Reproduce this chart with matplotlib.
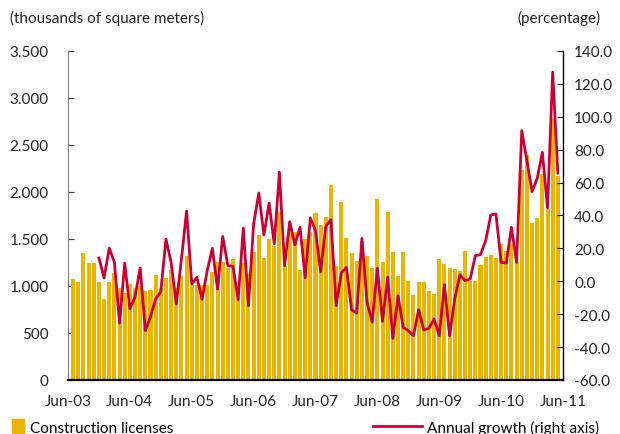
import numpy as np
import matplotlib
matplotlib.use('Agg')
import matplotlib.pyplot as plt
from matplotlib.ticker import FuncFormatter, MultipleLocator
from matplotlib.patches import Patch
from matplotlib.lines import Line2D

# Monthly construction licenses, thousands of square meters (Jul-03 .. May-11)
licenses = [1075, 1043, 1351, 1245, 1245, 1043, 862, 1043, 1138, 979,
            926, 1021, 979, 1000, 947, 958, 1117, 979, 1085, 1170,
            979, 1107, 1319, 1011, 1011, 1011, 1011, 1149, 1256, 1256,
            1192, 1287, 872, 1250, 1128, 1362, 1543, 1298, 1500, 1426,
            1787, 1213, 1600, 1575, 1170, 1500, 1575, 1777, 1649, 1734,
            2075, 1213, 1894, 1511, 1351, 1266, 1479, 1319, 1192, 1926,
            1256, 1787, 1362, 1107, 1362, 1053, 904, 1043, 1043, 947,
            915, 1287, 1234, 1192, 1181, 1160, 1372, 1053, 1053, 1224,
            1309, 1330, 1298, 1447, 1372, 1450, 1256, 2234, 2394, 1670,
            1724, 2192, 1819, 2780, 2170]

# Annual growth in percent (right axis), starts with the 6th bar
growth_start = 5
growth = [14.2, 2.0, 20.2, 11.5, -25.4, 11.1, -16.8, -9.5, 8.1, -30.0,
          -21.5, -10.8, -6.3, 25.7, 11.5, -13.8, 13.6, 42.7, -1.6, 2.4,
          -11.0, 6.5, 20.0, -4.7, 27.3, 9.5, 9.1, -11.2, 32.4, -14.8,
          34.8, 53.7, 28.1, 47.6, 22.7, 66.3, 9.5, 36.2, 22.1, 32.8,
          2.2, 38.5, 30.8, 5.8, 33.4, 37.5, -14.8, 5.0, 8.5, -17.4,
          -19.3, 26.1, -12.8, -24.9, 7.9, -24.3, 2.5, -34.7, -8.8, -28.0,
          -30.0, -33.1, -17.3, -29.6, -28.6, -22.9, -33.1, -2.1, -33.1, -10.8,
          4.0, 0.4, 1.4, 15.6, 16.2, 24.7, 40.3, 40.9, 11.5, 11.1,
          32.8, 11.5, 91.6, 73.3, 54.5, 62.6, 78.4, 44.6, 127.1, 65.8]

tick_labels = ['Jun-03', 'Jun-04', 'Jun-05', 'Jun-06', 'Jun-07',
               'Jun-08', 'Jun-09', 'Jun-10', 'Jun-11']

bar_color = '#EBB400'
line_color = '#CC0035'

plt.rcParams['font.family'] = ['Lato', 'DejaVu Sans']
plt.rcParams['font.size'] = 11

fig = plt.figure(figsize=(6.2, 4.35), dpi=100)
ax = fig.add_axes([68 / 620, 1 - 381 / 435, (563 - 68) / 620, (381 - 52) / 435])
ax2 = ax.twinx()

x = np.arange(len(licenses))
ax.bar(x, licenses, width=0.78, color=bar_color, zorder=2)
ax2.plot(x[growth_start:growth_start + len(growth)], growth,
         color=line_color, lw=2.0, solid_joinstyle='round', zorder=3)

# x axis: ticks every 12 months
ax.set_xlim(-1, 95)
ax.set_xticks(np.arange(len(tick_labels)) * 12 - 1)
ax.set_xticklabels(tick_labels)

# left axis
ax.set_ylim(0, 3500)
ax.yaxis.set_major_locator(MultipleLocator(500))
ax.yaxis.set_major_formatter(FuncFormatter(lambda v, p: f'{int(v):,}'.replace(',', '.')))

# right axis
ax2.set_ylim(-60, 140)
ax2.yaxis.set_major_locator(MultipleLocator(20))
ax2.yaxis.set_major_formatter(FuncFormatter(lambda v, p: f'{v:.1f}'))

for a in (ax, ax2):
    a.spines['top'].set_visible(False)
ax.spines['left'].set_color('#808080')
ax2.spines['left'].set_visible(False)
ax.spines['right'].set_visible(False)
ax2.spines['bottom'].set_visible(False)
ax.spines['bottom'].set_linewidth(1.6)
ax2.spines['right'].set_linewidth(1.0)

ax.tick_params(axis='y', direction='in', length=4, pad=14, colors='#222222')
ax.tick_params(axis='y', color='#444444')
ax.tick_params(axis='x', direction='in', length=4, pad=10, colors='#222222')
ax2.tick_params(axis='y', direction='in', length=4, pad=8, colors='#222222')

fig.text(10 / 620, 1 - 18 / 435, '(thousands of square meters)', ha='left', va='center',
         color='#222222')
fig.text(600 / 620, 1 - 18 / 435, '(percentage)', ha='right', va='center', color='#222222')

# legends
leg1 = fig.legend(handles=[Patch(color=bar_color, label='Construction licenses')],
                  loc='center left', bbox_to_anchor=(6 / 620, 1 - 428 / 435), frameon=False,
                  handlelength=0.8, handleheight=1.0, handletextpad=0.4, borderaxespad=0)
leg2 = fig.legend(handles=[Line2D([], [], color=line_color, lw=2.0,
                                  label='Annual growth (right axis)')],
                  loc='center left', bbox_to_anchor=(367 / 620, 1 - 428 / 435), frameon=False,
                  handlelength=3.2, handletextpad=0.3, borderaxespad=0)

fig.savefig('out.png', dpi=100)
